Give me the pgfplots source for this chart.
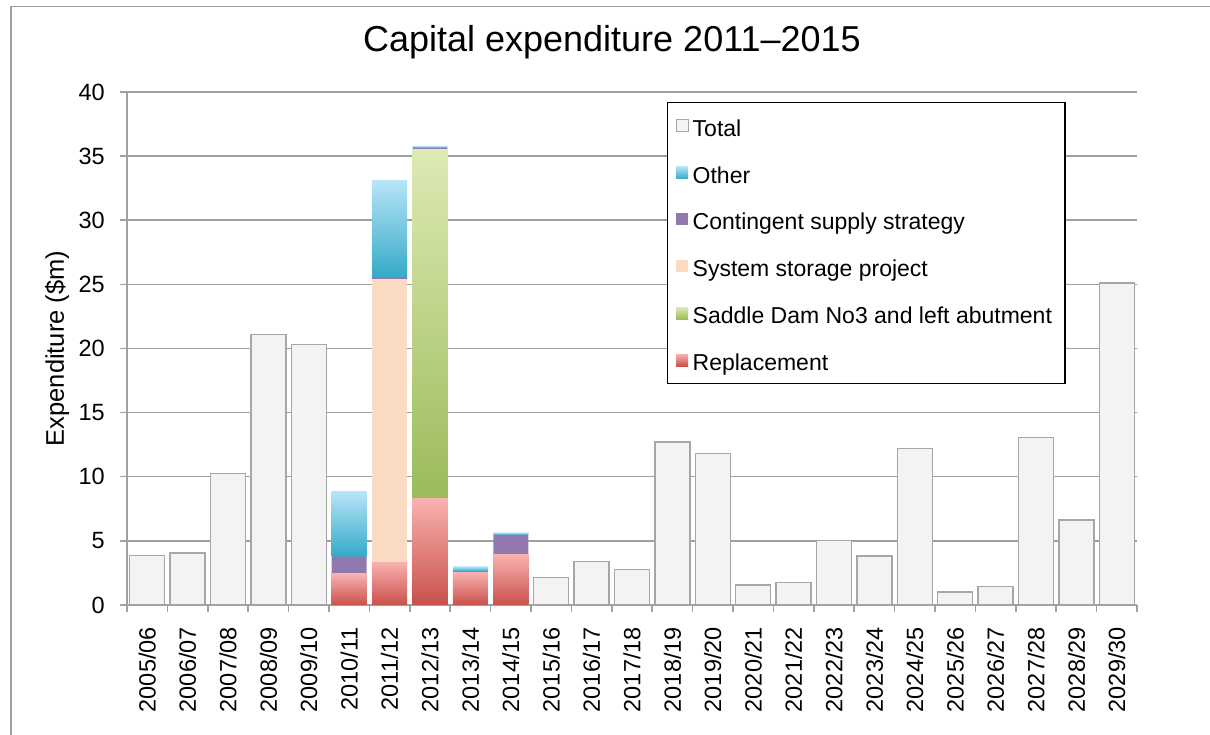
\documentclass[border=0pt]{standalone}
\usepackage{fontspec}
\setmainfont{Liberation Sans}
\usepackage{pgfplots}
\pgfplotsset{compat=1.18}
\definecolor{gridgray}{HTML}{A0A0A0}
\definecolor{totalfill}{HTML}{F3F3F3}
\definecolor{totaldraw}{HTML}{A6A6A6}
\definecolor{othertop}{HTML}{B7E4F7}
\definecolor{otherbot}{HTML}{34AAC8}
\definecolor{cont}{HTML}{9179B0}
\definecolor{ssp}{HTML}{FBDCC3}
\definecolor{saddletop}{HTML}{DDEAB5}
\definecolor{saddlebot}{HTML}{9BBB59}
\definecolor{repltop}{HTML}{F9B1AF}
\definecolor{replbot}{HTML}{C9504B}
\pgfplotsset{
  mylegend/.style={legend image code/.code={\path[##1, line width=1pt] (0pt,-6pt) rectangle (12pt,6pt);}},
  repl/.style={forget plot, top color=repltop, bottom color=replbot, draw=none},
  other/.style={forget plot, top color=othertop, bottom color=otherbot, draw=none},
}
\begin{document}
\begin{tikzpicture}
\useasboundingbox (0,0) rectangle (1210pt,735pt);
\draw[gridgray, line width=1.5pt] (11pt,-10pt) -- (11pt,728.3pt) -- (1220pt,728.3pt);
\begin{axis}[
  at={(127pt,130pt)}, anchor=south west,
  scale only axis, width=1010pt, height=513pt,
  ybar stacked, bar width=0.865,
  xmin=-0.5, xmax=24.5, ymin=0, ymax=40,
  ytick={0,5,...,40},
  minor ytick={0,5,...,40},
  xtick={0,...,24},
  minor xtick={-0.5,0.5,...,24.5},
  xticklabels={2005/06,2006/07,2007/08,2008/09,2009/10,2010/11,2011/12,2012/13,2013/14,2014/15,2015/16,2016/17,2017/18,2018/19,2019/20,2020/21,2021/22,2022/23,2023/24,2024/25,2025/26,2026/27,2027/28,2028/29,2029/30},
  /pgf/number format/assume math mode=true,
  axis x line*=bottom, axis y line*=left,
  axis line style={draw=gridgray, line width=1.5pt, -},
  tick align=outside, major tick length=0pt, minor tick length=7pt,
  tick style={draw=gridgray, line width=1.5pt},
  ymajorgrids, grid style={draw=gridgray, line width=1.5pt},
  ticklabel style={font=\fontsize{23.5}{28}\selectfont, inner sep=0pt},
  yticklabel style={anchor=east, xshift=-22pt},
  xticklabel style={yshift=-22pt, rotate=90, anchor=east},
  title={Capital expenditure 2011--2015},
  title style={at={(axis description cs:0.4802,1.0663)}, anchor=base, font=\fontsize{36}{42}\selectfont, inner sep=0pt},
  ylabel={Expenditure (\$m)},
  ylabel style={at={(axis description cs:-0.0624,0.5)}, anchor=base, rotate=0, font=\fontsize{25.5}{30}\selectfont, inner sep=0pt},
  legend style={at={(axis description cs:0.5347,0.9805)}, anchor=north west, draw=black, line width=1.3pt, fill=white,
    inner xsep=8pt, inner ysep=7.5pt, row sep=15.9pt, column sep=4pt,
    font=\fontsize{23}{27}\selectfont,
    nodes={inner sep=0pt, text height=26pt, text depth=5pt}},
  legend cell align=left,
]
\addlegendimage{mylegend, fill=totalfill, draw=totaldraw}
\addlegendentry{Total}
\addlegendimage{mylegend, top color=othertop, bottom color=otherbot, draw=none}
\addlegendentry{Other}
\addlegendimage{mylegend, fill=cont, draw=none}
\addlegendentry{Contingent supply strategy}
\addlegendimage{mylegend, fill=ssp, draw=none}
\addlegendentry{System storage project}
\addlegendimage{mylegend, top color=saddletop, bottom color=saddlebot, draw=none}
\addlegendentry{Saddle Dam No3 and left abutment\kern5pt}
\addlegendimage{mylegend, top color=repltop, bottom color=replbot, draw=none}
\addlegendentry{Replacement}
% Total
\addplot[forget plot, fill=totalfill, draw=totaldraw, line width=1.5pt] coordinates {(0,3.84)(1,4.04)(2,10.25)(3,21.1)(4,20.33)(5,0)(6,0)(7,0)(8,0)(9,0)(10,2.16)(11,3.39)(12,2.76)(13,12.71)(14,11.82)(15,1.56)(16,1.77)(17,5.03)(18,3.83)(19,12.21)(20,1.02)(21,1.43)(22,13.07)(23,6.64)(24,25.1)};
% Replacement (one plot per bar, so that each bar gets its own gradient)
\addplot[repl] coordinates {(0,0)(1,0)(2,0)(3,0)(4,0)(5,2.42)(6,0)(7,0)(8,0)(9,0)(10,0)(11,0)(12,0)(13,0)(14,0)(15,0)(16,0)(17,0)(18,0)(19,0)(20,0)(21,0)(22,0)(23,0)(24,0)};
\addplot[repl] coordinates {(0,0)(1,0)(2,0)(3,0)(4,0)(5,0)(6,3.33)(7,0)(8,0)(9,0)(10,0)(11,0)(12,0)(13,0)(14,0)(15,0)(16,0)(17,0)(18,0)(19,0)(20,0)(21,0)(22,0)(23,0)(24,0)};
\addplot[repl] coordinates {(0,0)(1,0)(2,0)(3,0)(4,0)(5,0)(6,0)(7,8.31)(8,0)(9,0)(10,0)(11,0)(12,0)(13,0)(14,0)(15,0)(16,0)(17,0)(18,0)(19,0)(20,0)(21,0)(22,0)(23,0)(24,0)};
\addplot[repl] coordinates {(0,0)(1,0)(2,0)(3,0)(4,0)(5,0)(6,0)(7,0)(8,2.55)(9,0)(10,0)(11,0)(12,0)(13,0)(14,0)(15,0)(16,0)(17,0)(18,0)(19,0)(20,0)(21,0)(22,0)(23,0)(24,0)};
\addplot[repl] coordinates {(0,0)(1,0)(2,0)(3,0)(4,0)(5,0)(6,0)(7,0)(8,0)(9,3.9)(10,0)(11,0)(12,0)(13,0)(14,0)(15,0)(16,0)(17,0)(18,0)(19,0)(20,0)(21,0)(22,0)(23,0)(24,0)};
% Saddle Dam No3 and left abutment
\addplot[forget plot, top color=saddletop, bottom color=saddlebot, draw=none] coordinates {(0,0)(1,0)(2,0)(3,0)(4,0)(5,0)(6,0)(7,27.24)(8,0)(9,0)(10,0)(11,0)(12,0)(13,0)(14,0)(15,0)(16,0)(17,0)(18,0)(19,0)(20,0)(21,0)(22,0)(23,0)(24,0)};
% System storage project
\addplot[forget plot, fill=ssp, draw=none] coordinates {(0,0)(1,0)(2,0)(3,0)(4,0)(5,0)(6,22.06)(7,0)(8,0)(9,0)(10,0)(11,0)(12,0)(13,0)(14,0)(15,0)(16,0)(17,0)(18,0)(19,0)(20,0)(21,0)(22,0)(23,0)(24,0)};
% Contingent supply strategy
\addplot[forget plot, fill=cont, draw=none] coordinates {(0,0)(1,0)(2,0)(3,0)(4,0)(5,1.36)(6,0.15)(7,0.1)(8,0.1)(9,1.57)(10,0)(11,0)(12,0)(13,0)(14,0)(15,0)(16,0)(17,0)(18,0)(19,0)(20,0)(21,0)(22,0)(23,0)(24,0)};
% Other (one plot per bar)
\addplot[other] coordinates {(0,0)(1,0)(2,0)(3,0)(4,0)(5,5.07)(6,0)(7,0)(8,0)(9,0)(10,0)(11,0)(12,0)(13,0)(14,0)(15,0)(16,0)(17,0)(18,0)(19,0)(20,0)(21,0)(22,0)(23,0)(24,0)};
\addplot[other] coordinates {(0,0)(1,0)(2,0)(3,0)(4,0)(5,0)(6,7.53)(7,0)(8,0)(9,0)(10,0)(11,0)(12,0)(13,0)(14,0)(15,0)(16,0)(17,0)(18,0)(19,0)(20,0)(21,0)(22,0)(23,0)(24,0)};
\addplot[other] coordinates {(0,0)(1,0)(2,0)(3,0)(4,0)(5,0)(6,0)(7,0.15)(8,0)(9,0)(10,0)(11,0)(12,0)(13,0)(14,0)(15,0)(16,0)(17,0)(18,0)(19,0)(20,0)(21,0)(22,0)(23,0)(24,0)};
\addplot[other] coordinates {(0,0)(1,0)(2,0)(3,0)(4,0)(5,0)(6,0)(7,0)(8,0.35)(9,0)(10,0)(11,0)(12,0)(13,0)(14,0)(15,0)(16,0)(17,0)(18,0)(19,0)(20,0)(21,0)(22,0)(23,0)(24,0)};
\addplot[other] coordinates {(0,0)(1,0)(2,0)(3,0)(4,0)(5,0)(6,0)(7,0)(8,0)(9,0.18)(10,0)(11,0)(12,0)(13,0)(14,0)(15,0)(16,0)(17,0)(18,0)(19,0)(20,0)(21,0)(22,0)(23,0)(24,0)};
\end{axis}
\end{tikzpicture}
\end{document}
